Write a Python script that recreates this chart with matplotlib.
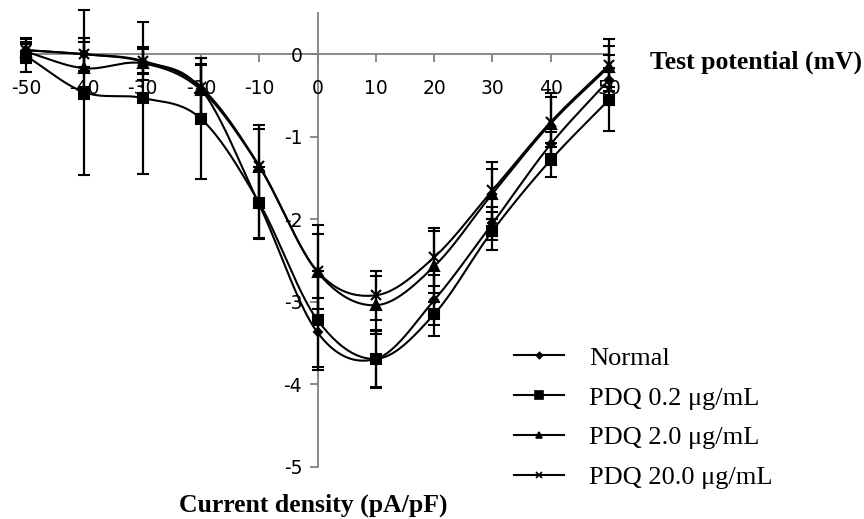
import numpy as np
import matplotlib
matplotlib.use("Agg")
import matplotlib.pyplot as plt
from matplotlib.lines import Line2D

# ---- data ----
potential = [-50, -40, -30, -20, -10, 0, 10, 20, 30, 40, 50]
normal = [0.05, 0.00, -0.09, -0.42, -1.82, -3.37, -3.69, -2.98, -2.05, -1.09, -0.31]
pdq02 = [-0.02, -0.46, -0.53, -0.78, -1.80, -3.22, -3.69, -3.15, -2.14, -1.28, -0.55]
pdq2 = [0.03, -0.17, -0.11, -0.43, -1.36, -2.64, -3.04, -2.57, -1.69, -0.84, -0.15]
pdq20 = [0.05, 0.00, -0.08, -0.40, -1.35, -2.63, -2.92, -2.46, -1.65, -0.82, -0.13]
err_normal = [0.15, 0.20, 0.15, 0.30, 0.40, 0.42, 0.35, 0.30, 0.20, 0.15, 0.30]
err_pdq02 = [0.20, 1.00, 0.92, 0.73, 0.44, 0.60, 0.34, 0.26, 0.23, 0.21, 0.38]
err_pdq2 = [0.10, 0.37, 0.20, 0.30, 0.50, 0.57, 0.35, 0.43, 0.30, 0.37, 0.25]
err_pdq20 = [0.10, 0.15, 0.15, 0.35, 0.45, 0.45, 0.30, 0.35, 0.34, 0.30, 0.31]
labels = ["Normal", "PDQ 0.2 μg/mL", "PDQ 2.0 μg/mL", "PDQ 20.0 μg/mL"]
xticks = [-50, -40, -30, -20, -10, 0, 10, 20, 30, 40, 50]
yticks = [-5, -4, -3, -2, -1, 0]


def smooth(x, y, n=24):
    x = np.asarray(x, float)
    y = np.asarray(y, float)
    px = np.concatenate([[2 * x[0] - x[1]], x, [2 * x[-1] - x[-2]]])
    py = np.concatenate([[2 * y[0] - y[1]], y, [2 * y[-1] - y[-2]]])
    xs, ys = [], []
    t = np.linspace(0, 1, n)
    for i in range(1, len(px) - 2):
        p0, p1, p2, p3 = (np.array([px[j], py[j]]) for j in range(i - 1, i + 3))
        m1 = (p2 - p0) / 2
        m2 = (p3 - p1) / 2
        h00 = 2 * t**3 - 3 * t**2 + 1
        h10 = t**3 - 2 * t**2 + t
        h01 = -2 * t**3 + 3 * t**2
        h11 = t**3 - t**2
        pts = (np.outer(h00, p1) + np.outer(h10, m1) + np.outer(h01, p2) + np.outer(h11, m2))
        xs.append(pts[:, 0])
        ys.append(pts[:, 1])
    return np.concatenate(xs), np.concatenate(ys)


fig = plt.figure(figsize=(8.64, 5.19), dpi=100)
ax = fig.add_axes([26 / 864, 52 / 519, 583 / 864, 454 / 519])
ax.set_xlim(-50, 50)
ax.set_ylim(-5, 0.5)

series = [(normal, err_normal, "D", 4.5), (pdq02, err_pdq02, "s", 7.5),
          (pdq2, err_pdq2, "^", 6.5), (pdq20, err_pdq20, "x", 7)]
for (vals, err, mk, ms), lab in zip(series, labels):
    sx, sy = smooth(potential, vals)
    ax.plot(sx, sy, color="black", lw=1.5, clip_on=False, zorder=3)
    ax.errorbar(potential, vals, yerr=err, fmt=mk, ms=ms, color="black",
                mfc="black", mec="black", mew=1.5, elinewidth=1.6, capsize=4,
                capthick=1.6, clip_on=False, zorder=4)

for s in ["top", "right"]:
    ax.spines[s].set_visible(False)
ax.spines["left"].set_position(("data", 0))
ax.spines["bottom"].set_position(("data", 0))
ax.spines["left"].set_bounds(-5, 0.5)
for s in ["left", "bottom"]:
    ax.spines[s].set_color("#808080")
    ax.spines[s].set_linewidth(1.3)
    ax.spines[s].set_zorder(1)

ax.set_xticks(xticks)
ax.set_yticks(yticks)
ax.set_yticklabels([str(v) for v in yticks])
ax.set_xticklabels([str(v) for v in xticks])
ax.tick_params(axis="x", direction="out", length=6, width=1.3, color="#808080",
               labelsize=13.5, pad=12)
ax.tick_params(axis="y", direction="out", length=6, width=1.3, color="#808080",
               labelsize=13.5, pad=5)
for t in ax.get_xticklabels() + ax.get_yticklabels():
    t.set_family("DejaVu Sans")

serif = "Liberation Serif"
fig.text(862 / 864, 1 - 62 / 519, "Test potential (mV)", ha="right", va="center",
         fontsize=18.5, fontweight="bold", family=serif)
fig.text(313 / 864, 1 - 505 / 519, "Current density (pA/pF)", ha="center",
         va="center", fontsize=18.5, fontweight="bold", family=serif)

handles = [Line2D([], [], color="black", lw=1.5, marker=m, ms=s * 0.7,
                  mfc="black", mec="black", mew=1.2)
           for (_, _, m, s) in series]
leg = ax.legend(handles, labels, loc="upper left",
                bbox_to_anchor=(501 / 864, 1 - 333 / 519),
                bbox_transform=fig.transFigure, frameon=False,
                prop={"family": serif, "size": 19}, handlelength=1.9,
                handletextpad=0.95, labelspacing=0.62, borderpad=0)

fig.savefig("out.png", dpi=100)
